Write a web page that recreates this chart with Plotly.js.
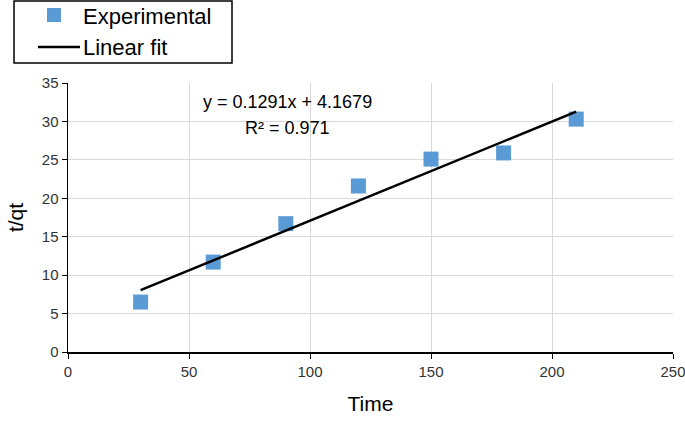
<!DOCTYPE html>
<html>
<head>
<meta charset="utf-8">
<script src="https://cdn.plot.ly/plotly-3.0.1.min.js"></script>
<style>html,body{margin:0;padding:0;background:#fff;}#chart{width:685px;height:423px;}</style>
</head>
<body>
<div id="chart"></div>
<script>
const timeValues = [30, 60, 90, 120, 150, 180, 210];
const tqValues = [6.5, 11.7, 16.7, 21.6, 25.1, 25.9, 30.3];
const fitSlope = 0.1291;
const fitIntercept = 4.1679;
const fitX = [30, 210];
const fitY = fitX.map(x => fitSlope * x + fitIntercept);
const xTicks = [0, 50, 100, 150, 200, 250];
const yTicks = [0, 5, 10, 15, 20, 25, 30, 35];
const seriesNames = ['Experimental', 'Linear fit'];

const font = "'Liberation Sans', 'DejaVu Sans', sans-serif";
const markerColor = '#5B9BD5';

// plot-area geometry (pixels) used to place the legend box outside the axes
const M = {l: 68, r: 12, t: 83, b: 71};
const W = 685, H = 423;
const pw = W - M.l - M.r, ph = H - M.t - M.b;
const px = p => (p - M.l) / pw;
const py = p => (H - M.b - p) / ph;

const traces = [
  {
    x: timeValues, y: tqValues, type: 'scatter', mode: 'markers', name: seriesNames[0],
    marker: {symbol: 'square', size: 15, color: markerColor}
  },
  {
    x: fitX, y: fitY, type: 'scatter', mode: 'lines', name: seriesNames[1],
    line: {color: '#000000', width: 2.5}
  }
];

const legendShapes = [
  {type: 'rect', xref: 'paper', yref: 'paper', x0: px(14), x1: px(232), y0: py(1), y1: py(63),
   line: {color: '#000', width: 1.5}, fillcolor: '#fff', layer: 'above'},
  {type: 'rect', xref: 'paper', yref: 'paper', x0: px(47), x1: px(61), y0: py(8), y1: py(22),
   line: {width: 0}, fillcolor: markerColor, layer: 'above'},
  {type: 'line', xref: 'paper', yref: 'paper', x0: px(38), x1: px(80), y0: py(47), y1: py(47),
   line: {color: '#000', width: 2.5}, layer: 'above'}
];

const layout = {
  width: W, height: H,
  margin: Object.assign({autoexpand: false}, M),
  paper_bgcolor: '#fff', plot_bgcolor: '#fff',
  font: {family: font, color: '#333', size: 14},
  showlegend: false,
  xaxis: {
    range: [0, 250], tickvals: xTicks, ticktext: xTicks.map(String),
    showgrid: true, gridcolor: '#d9d9d9', gridwidth: 1,
    showline: true, linecolor: '#000', linewidth: 1.5,
    ticks: 'outside', ticklen: 5, tickcolor: '#000',
    ticklabeloverflow: 'allow',
    zeroline: false, tickfont: {size: 15, color: '#333'},
    title: {text: 'Time', font: {size: 21, color: '#000'}, standoff: 18}
  },
  yaxis: {
    range: [0, 35], tickvals: yTicks, ticktext: yTicks.map(String),
    showgrid: true, gridcolor: '#d9d9d9', gridwidth: 1,
    showline: true, linecolor: '#000', linewidth: 1.5,
    ticks: 'outside', ticklen: 5, tickcolor: '#000',
    zeroline: false, tickfont: {size: 15, color: '#333'},
    title: {text: 't/qt', font: {size: 21, color: '#000'}, standoff: 12}
  },
  shapes: legendShapes,
  annotations: [
    {x: 90.5, y: 32.57, xref: 'x', yref: 'y', text: 'y = 0.1291x + 4.1679', showarrow: false,
     font: {size: 18, color: '#000'}, xanchor: 'center', yanchor: 'middle'},
    {x: 90.5, y: 29.1, xref: 'x', yref: 'y', text: 'R² = 0.971', showarrow: false,
     font: {size: 18, color: '#000'}, xanchor: 'center', yanchor: 'middle'},
    {x: px(81), y: py(16), xref: 'paper', yref: 'paper', text: seriesNames[0], showarrow: false,
     font: {size: 22, color: '#000'}, xanchor: 'left', yanchor: 'middle'},
    {x: px(81), y: py(47), xref: 'paper', yref: 'paper', text: seriesNames[1], showarrow: false,
     font: {size: 22, color: '#000'}, xanchor: 'left', yanchor: 'middle'}
  ]
};

Plotly.newPlot('chart', traces, layout, {displayModeBar: false, staticPlot: true});
</script>
</body>
</html>
